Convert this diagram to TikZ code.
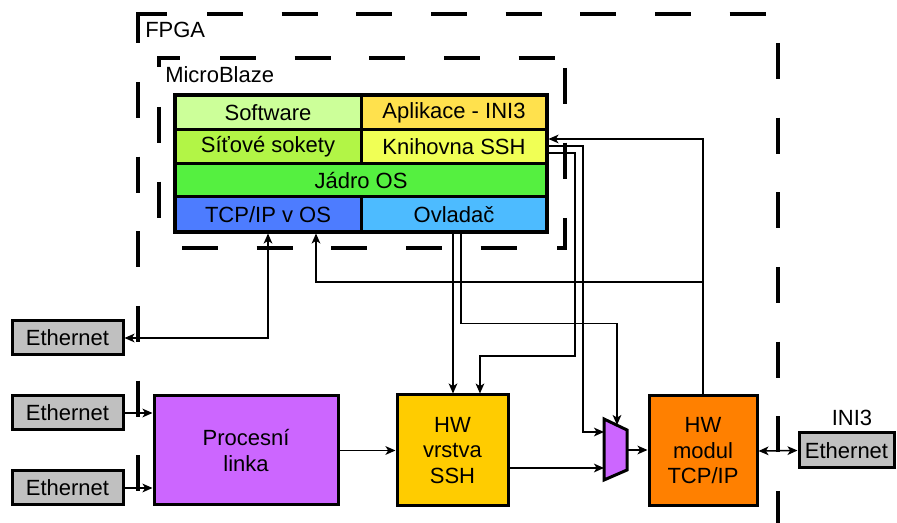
\documentclass[tikz,border=0pt]{standalone}
\usepackage{fontspec}
\setmainfont{Liberation Sans}
\usetikzlibrary{arrows.meta,calc}
\definecolor{cSoft}{HTML}{CCFF99}
\definecolor{cApp}{HTML}{FFE14D}
\definecolor{cSock}{HTML}{B2F546}
\definecolor{cLib}{HTML}{F0FF55}
\definecolor{cKern}{HTML}{55F040}
\definecolor{cTcp}{HTML}{4D7CFF}
\definecolor{cDrv}{HTML}{4DBBFF}
\definecolor{cPurp}{HTML}{CC66FF}
\definecolor{cSsh}{HTML}{FFCC00}
\definecolor{cMod}{HTML}{FF8000}
\definecolor{cEth}{HTML}{C0C0C0}
\begin{document}
\begin{tikzpicture}[x=0.75pt,y=-0.75pt,
  font=\fontsize{16.5pt}{19.1pt}\selectfont,
  >={Stealth[length=7.5pt,width=6.5pt,inset=2pt]},
  box/.style={draw,line width=2.25pt,inner sep=0pt,align=center},
  cell/.style={box,minimum width=139.5pt},
  ethbox/.style={box,fill=cEth,minimum width=83.25pt,minimum height=25.5pt},
  conn/.style={line width=1.1pt},
  frame/.style={line width=3pt,dash pattern=on 27pt off 29pt},
  cornerpc/.style={line width=3pt,line join=miter}
]
\useasboundingbox (0,0) rectangle (897,523);
\clip (0,0) rectangle (897,523);

% FPGA frame
\draw[cornerpc] (138,43) -- (138,14) -- (167,14);
\draw[frame] (138,82) -- (138,560);
\draw[frame] (207,14) -- (778,14);
\draw[frame] (778,43) -- (778,560);
\node[anchor=base west,inner sep=0pt] (fpga) at (145,38) {FPGA};

% MicroBlaze frame
\draw[cornerpc] (159,67) -- (159,58) -- (180,58);
\draw[frame] (159,107) -- (159,230);
\draw[frame] (220,58) -- (560,58);
\draw[frame] (565,68) -- (565,200);
\draw[frame] (182,248) -- (540,248);
\draw[cornerpc] (565,218) -- (565,248) -- (557,248);
\node[anchor=base west,inner sep=0pt] (mb) at (165,83) {MicroBlaze};

% layer stack
\node[cell,fill=cSoft,minimum height=26.25pt] (soft) at (268,112.5) {Software};
\node[cell,fill=cApp,minimum height=26.25pt] (app) at (454,112.5) {Aplikace - INI3};
\node[cell,fill=cSock,minimum height=25.5pt] (sock) at (268,147) {Síťové sokety};
\node[cell,fill=cLib,minimum height=25.5pt] (knih) at (454,147) {Knihovna SSH};
\node[box,fill=cKern,minimum width=279pt,minimum height=24.75pt] (kern) at (361,180.5) {Jádro OS};
\node[cell,fill=cTcp,minimum height=26.25pt] (tcpos) at (268,214.5) {TCP/IP v OS};
\node[cell,fill=cDrv,minimum height=26.25pt] (ovl) at (454,214.5) {Ovladač};
\draw[line width=3pt] (175,95) rectangle (547,232);

% blocks
\node[ethbox] (eth1) at (67.5,338) {Ethernet};
\node[ethbox] (eth2) at (67.5,413) {Ethernet};
\node[ethbox] (eth3) at (67.5,488) {Ethernet};
\node[box,fill=cPurp,minimum width=138pt,minimum height=81.75pt] (proc) at (246,450.5) {Procesní\\linka};
\node[box,fill=cSsh,minimum width=83.25pt,minimum height=83.25pt] (vrstva) at (452.5,450.5) {HW\\vrstva\\SSH};
\node[box,fill=cMod,minimum width=81pt,minimum height=82.5pt] (modul) at (703,451) {HW\\modul\\TCP/IP};
\node[box,fill=cEth,minimum width=71.25pt,minimum height=26.25pt] (ethr) at (846.5,450.5) {Ethernet};
\node[anchor=base,inner sep=0pt] (ini) at (852,426) {INI3};

% multiplexer
\draw[line width=2.25pt,line join=miter,fill=cPurp] (604,419) -- (627,430) -- (627,470) -- (604,480) -- cycle;
\coordinate (muxin1) at (604,432);
\coordinate (muxin2) at (604,468);
\coordinate (muxtop) at (617,425);
\coordinate (muxout) at (627,450);
\coordinate (j1) at (703,282);

% connectors
\draw[conn,<->] (eth1.east) -| (tcpos.south);
\draw[conn,->] (eth2.east) -- (eth2.east -| proc.west);
\draw[conn,->] (eth3.east) -- (eth3.east -| proc.west);
\draw[conn,->] (proc.east) -- (vrstva.west);
\draw[conn,->] (vrstva.east |- muxin2) -- (muxin2);
\draw[conn,->] (muxout) -- (modul.west |- muxout);
\draw[conn,<->] (modul.east) -- (ethr.west);
\draw[conn,->] (modul.north) |- ([yshift=6pt]knih.east);
\draw[conn,->] (j1) -| ([xshift=36pt]tcpos.south);
\draw[conn,->] ([yshift=0.75pt]knih.east) -| ($(muxin1)+(-21,0)$) -- (muxin1);
\draw[conn,->] ([yshift=-4.5pt]knih.east) -| (575,356) -| ([xshift=20.6pt]vrstva.north);
\draw[conn,->] ([xshift=-0.75pt]ovl.south) -- ([xshift=-0.75pt]ovl.south |- vrstva.north);
\draw[conn,->] ([xshift=5.25pt]ovl.south) -- ++(0,90) -| (muxtop);
\end{tikzpicture}
\end{document}
